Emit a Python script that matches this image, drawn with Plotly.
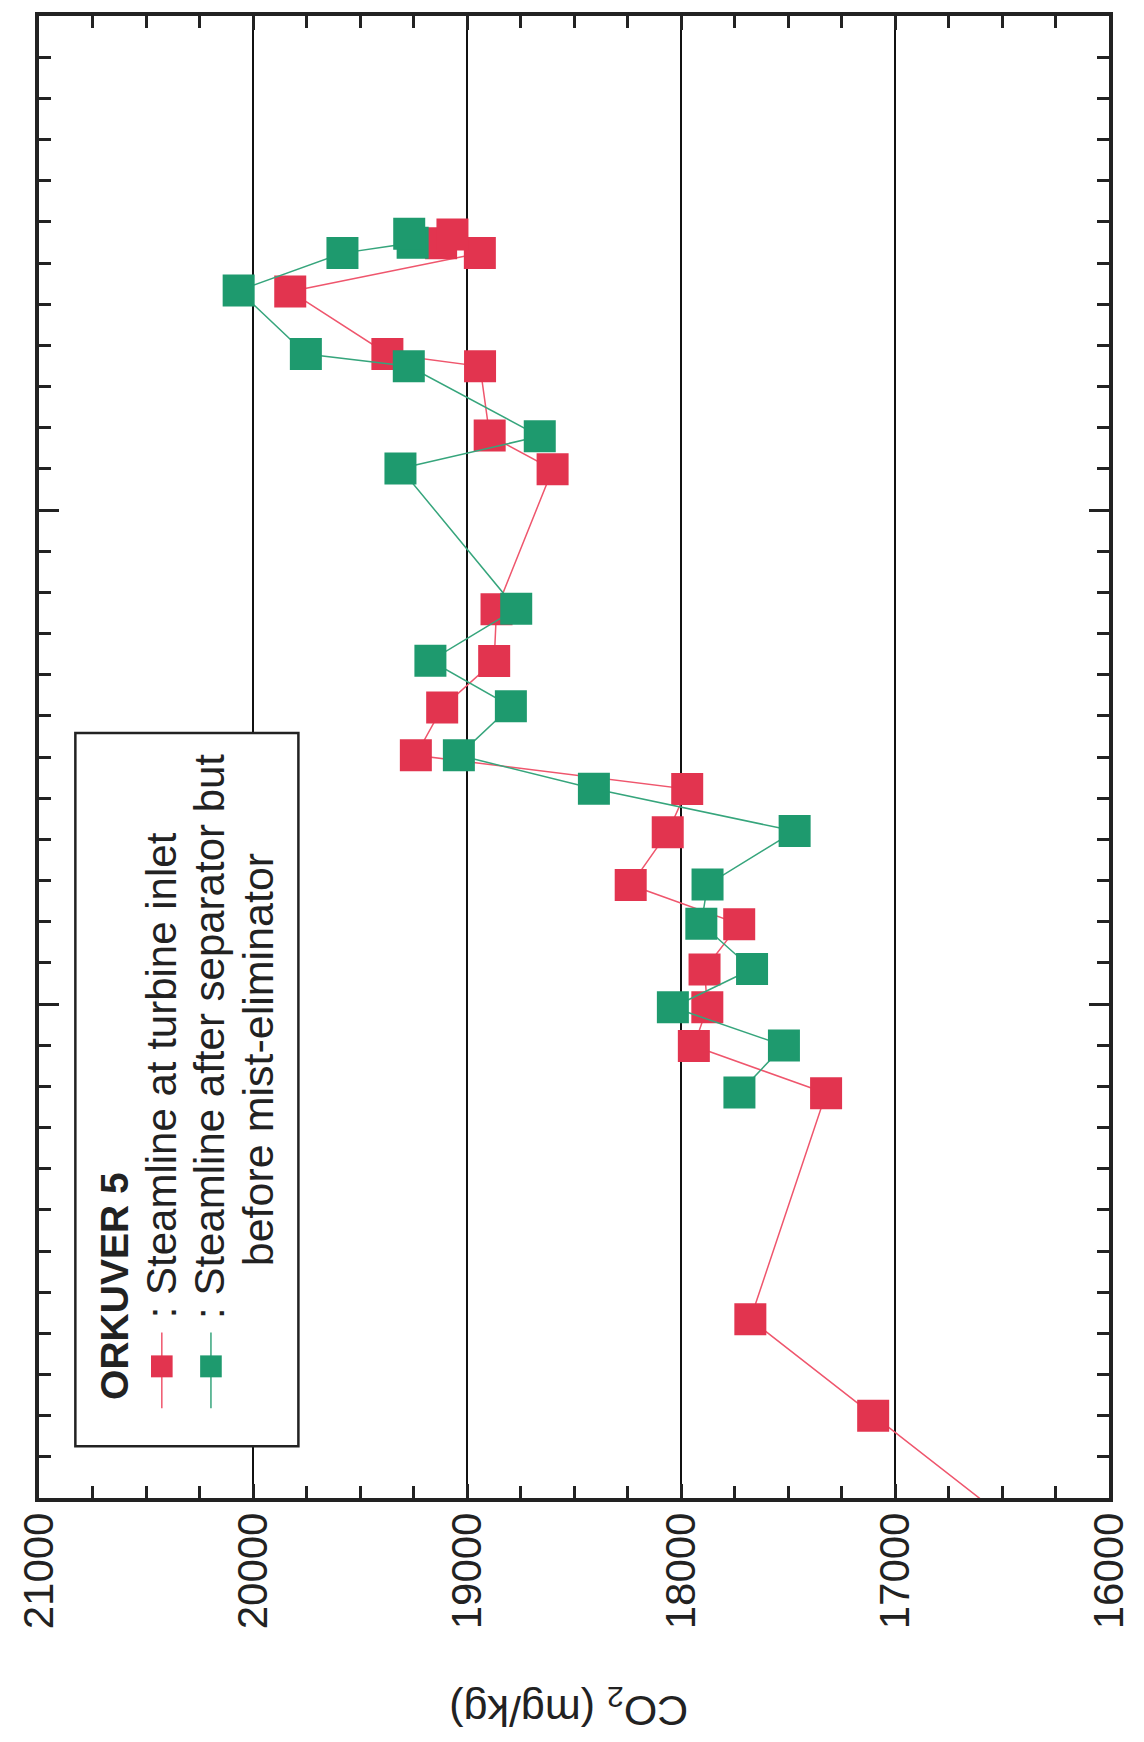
import plotly.graph_objects as go

# ---------------- data ----------------
# vertical axis: time in months from the bottom edge of the plot (labels not visible)
months_red = [-1.0, 2.00, 4.34, 9.83, 10.98, 11.92, 12.84, 13.94, 14.89, 16.17, 17.22,
              18.04, 19.20, 20.33, 21.59, 24.99, 25.81, 27.49, 27.79, 29.31, 30.24, 30.48, 30.69]
co2_red = [16360, 17102, 17676, 17322, 17940, 17877, 17890, 17728, 18235, 18062, 17971,
           19239, 19116, 18873, 18862, 18600, 18894, 18939, 19372, 19826, 18940, 19121, 19068]

months_green = [9.85, 10.99, 11.92, 12.85, 13.95, 14.90, 16.20, 17.23, 18.04, 19.23,
                20.34, 21.60, 25.01, 25.79, 27.49, 27.79, 29.33, 30.24, 30.49, 30.71]
co2_green = [17727, 17519, 18038, 17668, 17905, 17876, 17469, 18407, 19038, 18795,
             19171, 18770, 19311, 18660, 19272, 19753, 20067, 19582, 19254, 19270]

co2_tickvals = [16000, 17000, 18000, 19000, 20000, 21000]
co2_ticktext = ["16000", "17000", "18000", "19000", "20000", "21000"]

legend_title = "ORKUVER 5"
name_red = ": Steamline at turbine inlet"
name_green_1 = ": Steamline after separator but"
name_green_2 = "before mist-eliminator"
axis_title = "CO<sub>2</sub> (mg/kg)"

# ---------------- style ----------------
RED = "#E2344F"
RED_LINE = "#EF566D"
GREEN = "#1E9A6E"
GREEN_LINE = "#36A57C"
INK = "#222222"
FONT = "Liberation Sans, Arial, sans-serif"

W, H = 1144, 1742
L, R, T, B = 39, 1128, 12, 1498


def px(X):
    return (X - L) / (R - L)


def py(Y):
    return (B - Y) / (B - T)


fig = go.Figure()
fig.add_trace(go.Scatter(
    x=co2_red, y=months_red, mode="lines+markers", name=name_red,
    line=dict(color=RED_LINE, width=1.5),
    marker=dict(symbol="square", size=32, color=RED, line=dict(width=0)),
))
fig.add_trace(go.Scatter(
    x=co2_green, y=months_green, mode="lines+markers", name=name_green_1,
    line=dict(color=GREEN_LINE, width=1.5),
    marker=dict(symbol="square", size=32, color=GREEN, line=dict(width=0)),
))

fig.update_layout(
    width=W, height=H,
    margin=dict(l=L, r=W - R, t=T, b=H - B, pad=0),
    paper_bgcolor="white", plot_bgcolor="white",
    showlegend=False,
    font=dict(family=FONT, color=INK),
)

fig.update_xaxes(
    range=[21000, 16000],
    tickmode="array", tickvals=co2_tickvals, ticktext=co2_ticktext,
    tickangle=-90,
    ticks="inside", ticklen=14, tickwidth=2.5, tickcolor=INK,
    minor=dict(tickmode="linear", tick0=16000, dtick=250, ticks="inside",
               ticklen=12, tickwidth=2.5, tickcolor=INK, showgrid=False),
    showgrid=True, gridcolor="#111111", gridwidth=1.8,
    showline=True, linewidth=3.5, linecolor=INK, mirror="allticks",
    zeroline=False,
    tickfont=dict(family=FONT, size=42, color=INK),
    ticklabelstandoff=-6,
    ticklabeloverflow="allow",
)
fig.update_yaxes(
    range=[0, 36],
    tickmode="linear", tick0=0, dtick=12,
    ticks="inside", ticklen=20, tickwidth=2.5, tickcolor=INK,
    minor=dict(tickmode="linear", tick0=0, dtick=1, ticks="inside",
               ticklen=12, tickwidth=2.5, tickcolor=INK, showgrid=False),
    showticklabels=False, showgrid=False,
    showline=True, linewidth=3.5, linecolor=INK, mirror="allticks",
    zeroline=False,
)

# ---------------- legend box (rotated, drawn by hand) ----------------
shapes = [
    dict(type="rect", xref="paper", yref="paper",
         x0=px(76), x1=px(303), y0=py(1446), y1=py(731),
         fillcolor="white", line=dict(color=INK, width=2.5), layer="above"),
]
for cx, lc, mc in [(164, RED_LINE, RED), (214, GREEN_LINE, GREEN)]:
    shapes.append(dict(type="line", xref="paper", yref="paper",
                       x0=px(cx), x1=px(cx), y0=py(1408), y1=py(1332),
                       line=dict(color=lc, width=1.5), layer="above"))
    shapes.append(dict(type="rect", xref="paper", yref="paper",
                       x0=px(cx - 11), x1=px(cx + 11), y0=py(1377), y1=py(1355),
                       fillcolor=mc, line=dict(width=0), layer="above"))

annotations = [
    dict(text="<b>%s</b>" % legend_title, xref="paper", yref="paper",
         x=px(116), y=py(1402), xanchor="center", yanchor="bottom",
         textangle=-90, showarrow=False, font=dict(family=FONT, size=39, color=INK)),
    dict(text=name_red, xref="paper", yref="paper",
         x=px(164), y=py(1320), xanchor="center", yanchor="bottom",
         textangle=-90, showarrow=False, font=dict(family=FONT, size=42, color=INK)),
    dict(text=name_green_1, xref="paper", yref="paper",
         x=px(213), y=py(1320), xanchor="center", yanchor="bottom",
         textangle=-90, showarrow=False, font=dict(family=FONT, size=42, color=INK)),
    dict(text=name_green_2, xref="paper", yref="paper",
         x=px(262), y=py(1268), xanchor="center", yanchor="bottom",
         textangle=-90, showarrow=False, font=dict(family=FONT, size=43, color=INK)),
    dict(text=axis_title, xref="paper", yref="paper",
         x=px(578), y=py(1708), xanchor="center", yanchor="middle",
         textangle=180, showarrow=False, font=dict(family=FONT, size=43, color=INK)),
]

fig.update_layout(shapes=shapes, annotations=annotations)

fig.write_html("out.html")
